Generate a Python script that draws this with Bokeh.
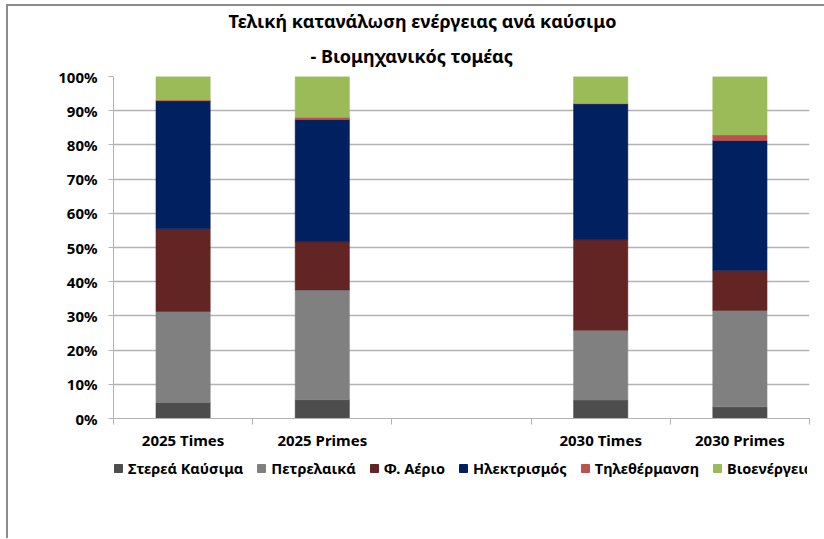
from bokeh.plotting import figure
from bokeh.layouts import column
from bokeh.models import (ColumnDataSource, Range1d, FixedTicker, PrintfTickFormatter,
                          Legend, LegendItem, Title)
from bokeh.embed import file_html
from bokeh.resources import INLINE

# ---------------- data ----------------
categories = ["2025 Times", "2025 Primes", " ", "2030 Times", "2030 Primes"]
series_names = ["Στερεά Καύσιμα", "Πετρελαικά", "Φ. Αέριο", "Ηλεκτρισμός", "Τηλεθέρμανση", "Βιοενέργεια"]
solid_fuels = [4.7, 5.5, 0.0, 5.4, 3.4]
petroleum = [26.6, 32.1, 0.0, 20.4, 28.2]
natural_gas = [24.2, 14.1, 0.0, 26.5, 11.7]
electricity = [37.4, 35.7, 0.0, 39.7, 38.0]
district_heating = [0.2, 0.7, 0.0, 0.1, 1.6]
bioenergy = [6.9, 11.9, 0.0, 7.9, 17.1]
y_ticks = list(range(0, 101, 10))
title_lines = ["Τελική κατανάλωση ενέργειας ανά καύσιμο", "- Βιομηχανικός τομέας"]

colors = ["#4d4d4d", "#808080", "#632523", "#002060", "#c0504d", "#9bbb59"]
FONT = "Noto Sans"
GRID = "#b3b3b3"
BORDER = "2px solid #8c8c8c"

n = len(categories)
centers = [i + 0.5 for i in range(n)]      # slot centres on the category scale
bounds = list(range(n + 1))                 # slot boundaries

keys = ["s0", "s1", "s2", "s3", "s4", "s5"]
src = ColumnDataSource(data=dict(x=centers, s0=solid_fuels, s1=petroleum, s2=natural_gas,
                                 s3=electricity, s4=district_heating, s5=bioenergy))

# ---------------- main chart ----------------
p = figure(x_range=Range1d(0, n), y_range=Range1d(0, 100),
           frame_width=694, frame_height=340, output_backend="svg", toolbar_location=None,
           min_border_left=105, min_border_right=17, min_border_top=70, min_border_bottom=36)
p.margin = (4, 0, 0, 6)
p.styles = {"border-left": BORDER, "border-top": BORDER}
p.outline_line_color = None
p.xgrid.visible = False
p.ygrid.grid_line_color = GRID
p.ygrid.grid_line_width = 1.3
p.ygrid.ticker = FixedTicker(ticks=y_ticks)

p.vbar_stack(keys, x="x", width=0.39, source=src,
             fill_color=colors, line_color=colors, line_width=0.5)

# y axis
ya = p.yaxis[0]
ya.ticker = FixedTicker(ticks=y_ticks)
ya.formatter = PrintfTickFormatter(format="%d%%")
ya.axis_line_color = GRID
ya.major_tick_line_color = GRID
ya.major_tick_out = 5
ya.major_tick_in = 0
ya.minor_tick_line_color = None
ya.major_label_standoff = 11
ya.major_label_text_font = FONT
ya.major_label_text_font_style = "bold"
ya.major_label_text_font_size = "15px"
ya.major_label_text_color = "#000000"

# x axis: category labels at centres, tick marks at slot boundaries
xa = p.xaxis[0]
xa.ticker = FixedTicker(ticks=centers, minor_ticks=bounds)
xa.major_label_overrides = {c: name for c, name in zip(centers, categories)}
xa.axis_line_color = GRID
xa.major_tick_line_color = None
xa.major_tick_out = 0
xa.major_tick_in = 0
xa.minor_tick_line_color = GRID
xa.minor_tick_out = 6
xa.minor_tick_in = 0
xa.major_label_standoff = 5
xa.major_label_text_font = FONT
xa.major_label_text_font_style = "bold"
xa.major_label_text_font_size = "15px"
xa.major_label_text_color = "#000000"

# two-line title: inner line added first (closest to the frame)
p.add_layout(Title(text=title_lines[1], align="left", offset=197, standoff=18,
                   text_font=FONT, text_font_style="bold", text_font_size="18px",
                   text_color="#000000"), "above")
p.add_layout(Title(text=title_lines[0], align="left", offset=115, standoff=0,
                   text_font=FONT, text_font_style="bold", text_font_size="18px",
                   text_color="#000000"), "above")

# ---------------- legend strip (same series, drawn off-range so only the legend shows) ----------------
lg = figure(x_range=Range1d(0, n), y_range=Range1d(1000, 1001),
            width=816, height=86, output_backend="svg", toolbar_location=None,
            x_axis_location=None, y_axis_location=None,
            min_border_left=105, min_border_right=0, min_border_top=6, min_border_bottom=0)
lg.margin = (0, 0, 0, 6)
lg.styles = {"border-left": BORDER}
lg.outline_line_color = None
lg.grid.visible = False
legend_renderers = lg.vbar_stack(keys, x="x", width=0.39, source=src,
                                 fill_color=colors, line_color=colors)

legend = Legend(items=[LegendItem(label=nm, renderers=[r]) for nm, r in zip(series_names, legend_renderers)],
                orientation="horizontal", location="top_left",
                margin=0, padding=0, spacing=13, glyph_width=10, glyph_height=10,
                label_standoff=5, border_line_color=None, background_fill_alpha=0,
                label_text_font=FONT, label_text_font_style="bold", label_text_font_size="14.5px",
                label_text_color="#000000")
lg.add_layout(legend, "center")

layout = column(p, lg, spacing=0)

open("out.html", "w").write(file_html(layout, INLINE))
